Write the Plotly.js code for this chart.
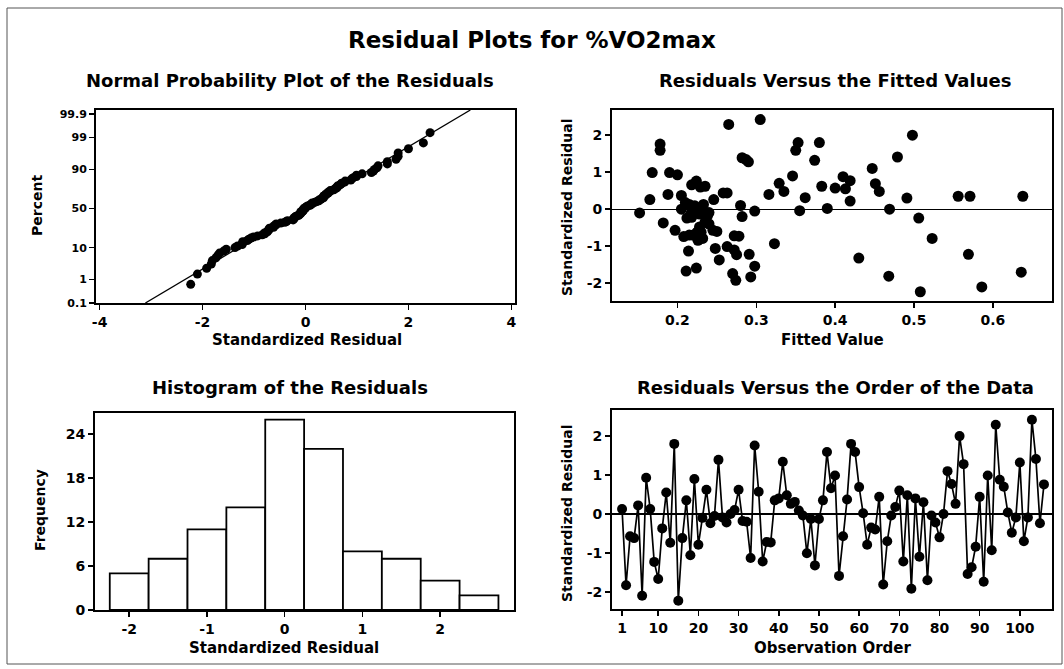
<!DOCTYPE html>
<html>
<head>
<meta charset="utf-8">
<script src="https://cdn.plot.ly/plotly-3.0.1.min.js"></script>
<style>
  html, body { margin: 0; padding: 0; background: #ffffff; }
  #chart { width: 1064px; height: 669px; }
</style>
</head>
<body>
<div id="chart"></div>
<script>
// Standardized residuals in observation order
const standardizedResiduals = [
  0.13, -1.83, -0.57, -0.62, 0.22, -2.10, 0.93, 0.13, -1.23, -1.67,
  -0.37, 0.55, -0.74, 1.80, -2.23, -0.62, 0.35, -1.06, 0.90, -0.79,
  -0.10, 0.62, -0.24, -0.05, 1.39, -0.09, -0.22, 0.00, 0.10, 0.62,
  -0.18, -0.20, -1.13, 1.76, 0.57, -1.22, -0.72, -0.73, 0.35, 0.40,
  1.34, 0.48, 0.26, 0.31, 0.09, -0.04, -1.01, -0.13, -1.32, -0.13,
  0.35, 1.59, 0.66, 0.99, -1.59, -0.57, 0.37, 1.80, 1.59, 0.69,
  0.02, -0.79, -0.35, -0.40, 0.44, -1.81, -0.70, -0.04, 0.18, 0.60,
  -1.22, 0.48, -1.92, 0.40, -1.10, 0.30, -1.70, -0.04, -0.22, -0.60,
  0.00, 1.10, 0.77, 0.26, 2.00, 1.28, -1.54, -1.37, -0.84, 0.44,
  -1.74, 0.99, -0.93, 2.29, 0.88, 0.70, 0.04, -0.48, -0.09, 1.32,
  -0.70, -0.09, 2.42, 1.41, -0.24, 0.76
];

// Fitted %VO2max for each observation
const fittedValues = [
  0.215, 0.293, 0.197, 0.225, 0.419, 0.586, 0.200, 0.233, 0.275, 0.211,
  0.182, 0.413, 0.208, 0.353, 0.508, 0.230, 0.556, 0.248, 0.346, 0.232,
  0.152, 0.383, 0.212, 0.298, 0.282, 0.220, 0.236, 0.205, 0.280, 0.235,
  0.238, 0.282, 0.214, 0.178, 0.400, 0.291, 0.272, 0.278, 0.571, 0.316,
  0.287, 0.456, 0.165, 0.362, 0.222, 0.355, 0.263, 0.228, 0.430, 0.217,
  0.638, 0.350, 0.218, 0.168, 0.224, 0.245, 0.205, 0.380, 0.178, 0.451,
  0.390, 0.523, 0.235, 0.240, 0.258, 0.468, 0.215, 0.227, 0.210, 0.229,
  0.569, 0.335, 0.274, 0.188, 0.272, 0.491, 0.636, 0.223, 0.218, 0.250,
  0.469, 0.447, 0.419, 0.246, 0.498, 0.290, 0.298, 0.253, 0.226, 0.263,
  0.270, 0.190, 0.323, 0.265, 0.410, 0.329, 0.231, 0.228, 0.226, 0.374,
  0.220, 0.240, 0.305, 0.479, 0.506, 0.224
];

// Tick values and labels
const probPercentTicks = [0.1, 1, 10, 50, 90, 99, 99.9];
const probPercentLabels = ['0.1', '1', '10', '50', '90', '99', '99.9'];
const residualTicks = [-4, -2, 0, 2, 4];
const fittedTicks = [0.2, 0.3, 0.4, 0.5, 0.6];
const fittedLabels = ['0.2', '0.3', '0.4', '0.5', '0.6'];
const histResidualTicks = [-2, -1, 0, 1, 2];
const frequencyTicks = [0, 6, 12, 18, 24];
const orderTicks = [1, 10, 20, 30, 40, 50, 60, 70, 80, 90, 100];
const stdResidTicks = [-2, -1, 0, 1, 2];

// Histogram bins
const histBinStart = -2.25;
const histBinEnd = 2.75;
const histBinWidth = 0.5;

// Inverse standard normal CDF (Acklam's rational approximation)
function normInv(p) {
  const a = [-3.969683028665376e+01, 2.209460984245205e+02, -2.759285104469687e+02,
             1.383577518672690e+02, -3.066479806614716e+01, 2.506628277459239e+00];
  const b = [-5.447609879822406e+01, 1.615858368580409e+02, -1.556989798598866e+02,
             6.680131188771972e+01, -1.328068155288572e+01];
  const c = [-7.784894002430293e-03, -3.223964580411365e-01, -2.400758277161838e+00,
             -2.549732539343734e+00, 4.374664141464968e+00, 2.938163982698783e+00];
  const d = [7.784695709041462e-03, 3.224671290700398e-01, 2.445134137142996e+00,
             3.754408661907416e+00];
  const pl = 0.02425, ph = 1 - pl;
  let q, r;
  if (p < pl) {
    q = Math.sqrt(-2 * Math.log(p));
    return (((((c[0]*q+c[1])*q+c[2])*q+c[3])*q+c[4])*q+c[5]) /
           ((((d[0]*q+d[1])*q+d[2])*q+d[3])*q+1);
  }
  if (p <= ph) {
    q = p - 0.5; r = q * q;
    return (((((a[0]*r+a[1])*r+a[2])*r+a[3])*r+a[4])*r+a[5])*q /
           (((((b[0]*r+b[1])*r+b[2])*r+b[3])*r+b[4])*r+1);
  }
  q = Math.sqrt(-2 * Math.log(1 - p));
  return -(((((c[0]*q+c[1])*q+c[2])*q+c[3])*q+c[4])*q+c[5]) /
          ((((d[0]*q+d[1])*q+d[2])*q+d[3])*q+1);
}

// Plain hyphen minus for negative tick labels
const label = v => String(v);

const n = standardizedResiduals.length;
const order = standardizedResiduals.map((_, i) => i + 1);

// Normal probability plot: median ranks on a probit scale
const sorted = standardizedResiduals.slice().sort((u, v) => u - v);
const probZ = sorted.map((_, i) => normInv((i + 1 - 0.3) / (n + 0.4)));
const mean = standardizedResiduals.reduce((s, v) => s + v, 0) / n;
const sd = Math.sqrt(standardizedResiduals.reduce((s, v) => s + (v - mean) ** 2, 0) / (n - 1));
const probYRange = [normInv(0.001), 3.22];
const fitLineZ = [probYRange[0], probYRange[1]];
const fitLineX = fitLineZ.map(z => mean + sd * z);

const W = 1064, H = 669;
const px = v => v / W;
const py = v => 1 - v / H;

const FONT = 'DejaVu Sans, Verdana, sans-serif';
const tickFont = { family: FONT, size: 14, color: '#000', weight: 'bold' };

function frameAxis(extra) {
  return Object.assign({
    showline: true, mirror: true, linecolor: '#000', linewidth: 2,
    ticks: 'outside', ticklen: 5, tickwidth: 1.5, tickcolor: '#000',
    showgrid: false, zeroline: false, tickfont: tickFont, fixedrange: true
  }, extra);
}

const dot = { color: '#000', size: 10, line: { width: 0 } };

const traces = [
  {
    type: 'scatter', mode: 'lines', x: fitLineX, y: fitLineZ,
    xaxis: 'x', yaxis: 'y', line: { color: '#000', width: 1.3 }, hoverinfo: 'skip'
  },
  {
    type: 'scatter', mode: 'markers', x: sorted, y: probZ,
    xaxis: 'x', yaxis: 'y', marker: Object.assign({}, dot, { size: 9 })
  },
  {
    type: 'scatter', mode: 'markers', x: fittedValues, y: standardizedResiduals,
    xaxis: 'x2', yaxis: 'y2', marker: Object.assign({}, dot, { size: 11 })
  },
  {
    type: 'histogram', x: standardizedResiduals, xaxis: 'x3', yaxis: 'y3',
    autobinx: false, xbins: { start: histBinStart, end: histBinEnd, size: histBinWidth },
    marker: { color: '#ffffff', line: { color: '#000', width: 1.8 } }
  },
  {
    type: 'scatter', mode: 'lines+markers', x: order, y: standardizedResiduals,
    xaxis: 'x4', yaxis: 'y4', line: { color: '#000', width: 1.7 },
    marker: Object.assign({}, dot, { size: 10 })
  }
];

function ann(text, x, y, size, rot) {
  return {
    text: '<b>' + text + '</b>', xref: 'paper', yref: 'paper',
    x: px(x), y: py(y), xanchor: 'center', yanchor: 'middle',
    showarrow: false, textangle: rot || 0,
    font: { family: FONT, size: size, color: '#000' }
  };
}

const layout = {
  width: W, height: H,
  margin: { l: 0, r: 0, t: 0, b: 0 },
  paper_bgcolor: '#ffffff', plot_bgcolor: '#ffffff',
  showlegend: false, bargap: 0,
  font: { family: FONT, color: '#000' },

  xaxis: frameAxis({ domain: [px(96), px(515)], anchor: 'y', range: [-4.07, 4.07],
    tickvals: residualTicks, ticktext: residualTicks.map(label) }),
  yaxis: frameAxis({ domain: [py(303), py(110)], anchor: 'x', range: probYRange,
    tickvals: probPercentTicks.map(p => normInv(p / 100)), ticktext: probPercentLabels,
    tickfont: Object.assign({}, tickFont, { size: 11 }) }),

  xaxis2: frameAxis({ domain: [px(612), px(1052)], anchor: 'y2', range: [0.117, 0.675],
    tickvals: fittedTicks, ticktext: fittedLabels }),
  yaxis2: frameAxis({ domain: [py(301), py(110)], anchor: 'x2', range: [-2.48, 2.68],
    tickvals: stdResidTicks, ticktext: stdResidTicks.map(label),
    zeroline: true, zerolinecolor: '#000', zerolinewidth: 1.3 }),

  xaxis3: frameAxis({ domain: [px(95), px(514)], anchor: 'y3', range: [-2.44, 2.95],
    tickvals: histResidualTicks, ticktext: histResidualTicks.map(label) }),
  yaxis3: frameAxis({ domain: [py(610), py(413)], anchor: 'x3', range: [0, 26.9],
    tickvals: frequencyTicks }),

  xaxis4: frameAxis({ domain: [px(612), px(1052)], anchor: 'y4', range: [-1.5, 108],
    tickvals: orderTicks }),
  yaxis4: frameAxis({ domain: [py(609), py(410)], anchor: 'x4', range: [-2.44, 2.67],
    tickvals: stdResidTicks, ticktext: stdResidTicks.map(label),
    zeroline: true, zerolinecolor: '#000', zerolinewidth: 1.3 }),

  annotations: [
    ann('Residual Plots for %VO2max', 532, 40, 23),
    ann('Normal Probability Plot of the Residuals', 290, 80, 18),
    ann('Residuals Versus the Fitted Values', 835, 80, 18),
    ann('Histogram of the Residuals', 290, 387, 18),
    ann('Residuals Versus the Order of the Data', 835, 387, 18),
    ann('Standardized Residual', 307, 340, 15),
    ann('Percent', 37, 206, 14, -90),
    ann('Fitted Value', 832, 340, 15),
    ann('Standardized Residual', 567, 207, 14, -90),
    ann('Standardized Residual', 284, 648, 15),
    ann('Frequency', 40, 510, 14, -90),
    ann('Observation Order', 832, 648, 15),
    ann('Standardized Residual', 567, 513, 14, -90)
  ],

  shapes: [
    { type: 'rect', xref: 'paper', yref: 'paper', x0: px(7), x1: px(1062), y0: py(664), y1: py(8),
      line: { color: '#555', width: 1 }, fillcolor: 'rgba(0,0,0,0)' }
  ]
};

Plotly.newPlot('chart', traces, layout, { displayModeBar: false, staticPlot: true });
</script>
</body>
</html>
